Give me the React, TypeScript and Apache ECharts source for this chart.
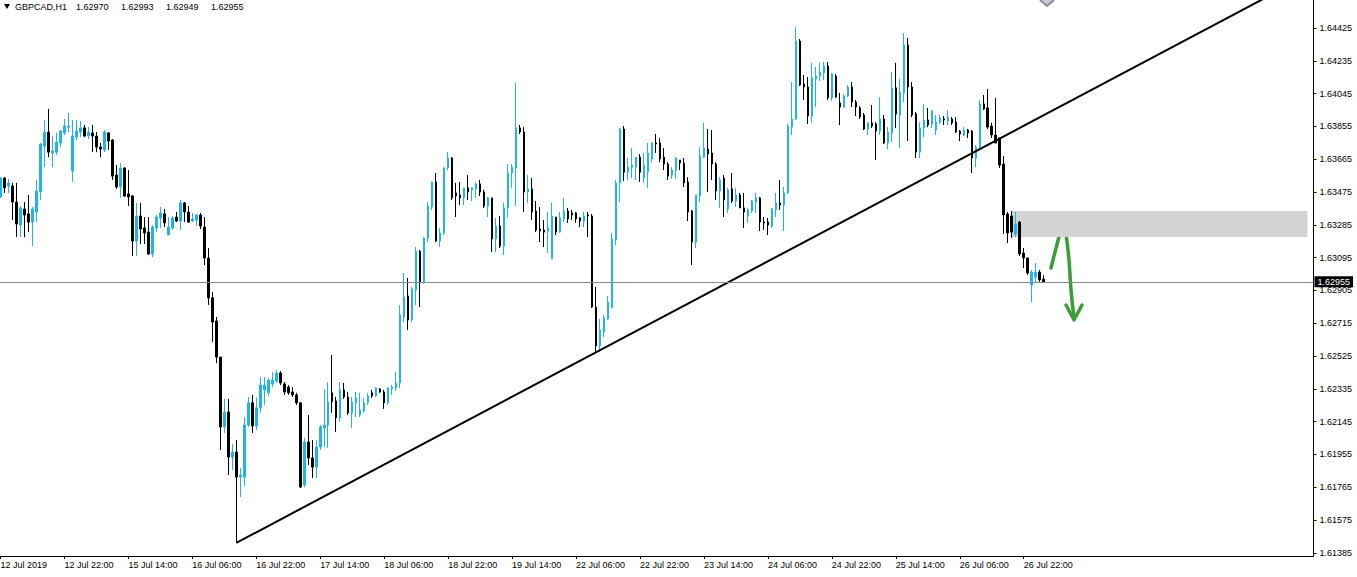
import React, { useEffect, useRef } from "react";
import * as echarts from "echarts";

const SYMBOL = "GBPCAD,H1";
const N_SLOTS = 329;
const TICK_STEP = 16;
const xTickLabels = ["12 Jul 2019","12 Jul 22:00","15 Jul 14:00","16 Jul 06:00","16 Jul 22:00","17 Jul 14:00","18 Jul 06:00","18 Jul 22:00","19 Jul 14:00","22 Jul 06:00","22 Jul 22:00","23 Jul 14:00","24 Jul 06:00","24 Jul 22:00","25 Jul 14:00","26 Jul 06:00","26 Jul 22:00"];
const yTickValues = [1.61385,1.61575,1.61765,1.61955,1.62145,1.62335,1.62525,1.62715,1.62905,1.63095,1.63285,1.63475,1.63665,1.63855,1.64045,1.64235,1.64425];
const Y_MIN = 1.61367;
const Y_MAX = 1.64587;

const opens = [1.63446,1.63556,1.63510,1.63510,1.63417,1.63284,1.63377,1.63348,1.63301,1.63359,
1.63475,1.63741,1.63822,1.63701,1.63706,1.63759,1.63817,1.63851,1.63596,1.63793,
1.63822,1.63846,1.63799,1.63817,1.63799,1.63735,1.63718,1.63817,1.63776,1.63573,
1.63504,1.63614,1.63464,1.63452,1.63191,1.63336,1.63267,1.63243,1.63116,1.63267,
1.63325,1.63348,1.63226,1.63267,1.63330,1.63307,1.63412,1.63359,1.63307,1.63313,
1.63342,1.63272,1.63093,1.62862,1.62728,1.62519,1.62114,1.62201,1.61940,1.61969,
1.61824,1.61824,1.62126,1.62254,1.62120,1.62225,1.62329,1.62312,1.62363,1.62380,
1.62427,1.62363,1.62345,1.62317,1.62300,1.62254,1.61778,1.62027,1.61935,1.61882,
1.61998,1.62109,1.62126,1.62312,1.62265,1.62167,1.62329,1.62288,1.62196,1.62254,
1.62184,1.62207,1.62254,1.62312,1.62294,1.62334,1.62317,1.62254,1.62334,1.62340,
1.62369,1.62751,1.62873,1.62734,1.62908,1.63133,1.62949,1.63209,1.63388,1.63533,
1.63191,1.63238,1.63614,1.63672,1.63470,1.63458,1.63441,1.63499,1.63487,1.63493,
1.63522,1.63475,1.63394,1.63441,1.63203,1.63278,1.63162,1.63383,1.63585,1.63614,
1.63846,1.63822,1.63475,1.63493,1.63365,1.63261,1.63255,1.63249,1.63087,1.63330,
1.63243,1.63319,1.63365,1.63354,1.63354,1.63325,1.63307,1.63342,1.63336,1.62809,
1.62583,1.62664,1.62740,1.62804,1.63197,1.63528,1.63840,1.63590,1.63619,1.63619,
1.63677,1.63556,1.63590,1.63666,1.63759,1.63759,1.63677,1.63637,1.63573,1.63602,
1.63660,1.63643,1.63533,1.63365,1.63185,1.63452,1.63677,1.63724,1.63701,1.63637,
1.63481,1.63556,1.63377,1.63493,1.63423,1.63458,1.63383,1.63336,1.63365,1.63417,
1.63441,1.63301,1.63301,1.63278,1.63371,1.63412,1.63400,1.63470,1.63851,1.63898,
1.64349,1.64101,1.64083,1.63915,1.64130,1.64147,1.64165,1.64205,1.64020,1.64147,
1.63991,1.63967,1.64031,1.64083,1.63996,1.63962,1.63921,1.63840,1.63875,1.63869,
1.63828,1.63898,1.63759,1.63817,1.64078,1.63921,1.64049,1.64326,1.64083,1.63927,
1.63706,1.63846,1.63892,1.63869,1.63834,1.63880,1.63898,1.63886,1.63898,1.63880,
1.63828,1.63805,1.63834,1.63828,1.63672,1.63735,1.63985,1.63962,1.63857,1.63805,
1.63788,1.63637,1.63348,1.63336,1.63232,1.63301,1.63122,1.63093,1.62937,1.62982,
1.63011,1.62970];

const closes = [1.63556,1.63499,1.63528,1.63417,1.63290,1.63383,1.63342,1.63301,1.63377,1.63481,
1.63753,1.63822,1.63706,1.63712,1.63764,1.63828,1.63857,1.63857,1.63799,1.63828,
1.63846,1.63799,1.63822,1.63799,1.63735,1.63724,1.63822,1.63770,1.63567,1.63504,
1.63614,1.63452,1.63446,1.63191,1.63336,1.63261,1.63238,1.63116,1.63272,1.63330,
1.63354,1.63296,1.63272,1.63325,1.63307,1.63412,1.63359,1.63301,1.63319,1.63342,
1.63278,1.63093,1.62862,1.62722,1.62519,1.62114,1.62201,1.61940,1.61969,1.61824,
1.61836,1.62126,1.62254,1.62120,1.62225,1.62357,1.62357,1.62386,1.62386,1.62427,
1.62369,1.62317,1.62312,1.62300,1.62254,1.61766,1.62027,1.61935,1.61882,1.61998,
1.62114,1.62126,1.62259,1.62259,1.62167,1.62329,1.62288,1.62196,1.62259,1.62283,
1.62213,1.62254,1.62294,1.62294,1.62340,1.62317,1.62254,1.62340,1.62345,1.62369,
1.62763,1.62867,1.62734,1.62914,1.63133,1.62949,1.63209,1.63394,1.63533,1.63191,
1.63238,1.63614,1.63672,1.63441,1.63452,1.63441,1.63499,1.63475,1.63499,1.63522,
1.63475,1.63394,1.63441,1.63203,1.63278,1.63162,1.63383,1.63585,1.63619,1.63846,
1.63822,1.63475,1.63493,1.63359,1.63255,1.63249,1.63243,1.63267,1.63336,1.63243,
1.63325,1.63365,1.63319,1.63342,1.63319,1.63307,1.63336,1.63336,1.62809,1.62583,
1.62676,1.62746,1.62838,1.63203,1.63528,1.63840,1.63590,1.63619,1.63631,1.63677,
1.63590,1.63631,1.63701,1.63759,1.63753,1.63666,1.63637,1.63567,1.63602,1.63672,
1.63643,1.63528,1.63359,1.63185,1.63458,1.63683,1.63730,1.63695,1.63637,1.63481,
1.63545,1.63429,1.63487,1.63423,1.63458,1.63383,1.63359,1.63371,1.63423,1.63441,
1.63301,1.63296,1.63284,1.63377,1.63412,1.63400,1.63470,1.63857,1.63898,1.64349,
1.64095,1.64083,1.63915,1.64136,1.64147,1.64170,1.64205,1.64020,1.64159,1.64025,
1.63967,1.64031,1.64083,1.63996,1.63967,1.63909,1.63840,1.63875,1.63857,1.63828,
1.63898,1.63759,1.63822,1.64078,1.63927,1.64054,1.64326,1.64083,1.63921,1.63706,
1.63846,1.63892,1.63863,1.63944,1.63880,1.63904,1.63892,1.63909,1.63875,1.63822,
1.63811,1.63834,1.63817,1.63672,1.63735,1.63985,1.63956,1.63851,1.63805,1.63759,
1.63631,1.63342,1.63238,1.63243,1.63290,1.63116,1.63093,1.63006,1.63011,1.63011,
1.62966,1.62955];

const lows = [1.63441,1.63470,1.63470,1.63313,1.63214,1.63214,1.63214,1.63243,1.63162,1.63301,
1.63429,1.63619,1.63677,1.63619,1.63689,1.63735,1.63805,1.63822,1.63533,1.63776,
1.63793,1.63793,1.63782,1.63706,1.63706,1.63677,1.63706,1.63718,1.63545,1.63493,
1.63441,1.63446,1.63394,1.63104,1.63104,1.63174,1.63174,1.63110,1.63098,1.63243,
1.63267,1.63272,1.63226,1.63255,1.63301,1.63255,1.63301,1.63296,1.63301,1.63278,
1.63261,1.63052,1.62821,1.62606,1.62485,1.61981,1.62080,1.61836,1.61865,1.61443,
1.61708,1.61772,1.62114,1.62080,1.62097,1.62196,1.62242,1.62294,1.62345,1.62369,
1.62357,1.62300,1.62300,1.62288,1.62242,1.61761,1.61766,1.61894,1.61819,1.61819,
1.61981,1.61998,1.61993,1.62196,1.62085,1.62143,1.62277,1.62184,1.62109,1.62172,
1.62172,1.62196,1.62242,1.62283,1.62288,1.62312,1.62219,1.62242,1.62300,1.62323,
1.62340,1.62722,1.62676,1.62722,1.62821,1.62809,1.62943,1.63185,1.63371,1.63185,
1.63156,1.63226,1.63602,1.63429,1.63330,1.63400,1.63400,1.63429,1.63423,1.63441,
1.63452,1.63383,1.63330,1.63127,1.63127,1.63151,1.63110,1.63325,1.63499,1.63394,
1.63811,1.63359,1.63412,1.63313,1.63243,1.63185,1.63156,1.63122,1.63087,1.63226,
1.63238,1.63301,1.63296,1.63313,1.63296,1.63272,1.63272,1.63214,1.62804,1.62548,
1.62548,1.62635,1.62734,1.62804,1.63168,1.63417,1.63539,1.63545,1.63556,1.63545,
1.63533,1.63528,1.63499,1.63648,1.63701,1.63648,1.63602,1.63545,1.63550,1.63550,
1.63602,1.63504,1.63307,1.63052,1.63151,1.63417,1.63672,1.63475,1.63545,1.63429,
1.63383,1.63330,1.63354,1.63412,1.63388,1.63383,1.63267,1.63296,1.63354,1.63354,
1.63249,1.63255,1.63226,1.63267,1.63330,1.63371,1.63249,1.63464,1.63805,1.63892,
1.64089,1.64008,1.63869,1.63875,1.63967,1.64118,1.64124,1.64008,1.64002,1.64020,
1.63863,1.63962,1.64025,1.63967,1.63915,1.63898,1.63834,1.63805,1.63846,1.63660,
1.63805,1.63753,1.63724,1.63764,1.63846,1.63730,1.63996,1.63770,1.63909,1.63672,
1.63672,1.63793,1.63851,1.63846,1.63805,1.63869,1.63863,1.63863,1.63863,1.63817,
1.63770,1.63799,1.63788,1.63585,1.63619,1.63730,1.63950,1.63840,1.63788,1.63759,
1.63614,1.63232,1.63180,1.63209,1.63214,1.63104,1.63035,1.62994,1.62838,1.62949,
1.62954,1.62949];

const highs = [1.63561,1.63561,1.63550,1.63528,1.63528,1.63394,1.63417,1.63458,1.63388,1.63545,
1.63759,1.63892,1.63956,1.63799,1.63817,1.63834,1.63898,1.63933,1.63892,1.63892,
1.63886,1.63863,1.63851,1.63863,1.63822,1.63759,1.63834,1.63822,1.63782,1.63631,
1.63643,1.63619,1.63602,1.63458,1.63412,1.63412,1.63330,1.63330,1.63284,1.63342,
1.63388,1.63377,1.63330,1.63336,1.63359,1.63429,1.63417,1.63394,1.63354,1.63348,
1.63354,1.63330,1.63151,1.62896,1.62751,1.62519,1.62277,1.62277,1.62016,1.62039,
1.61877,1.62172,1.62288,1.62300,1.62283,1.62403,1.62403,1.62398,1.62432,1.62444,
1.62438,1.62374,1.62357,1.62345,1.62312,1.62259,1.62051,1.62184,1.62039,1.62039,
1.62126,1.62334,1.62374,1.62531,1.62288,1.62374,1.62369,1.62317,1.62288,1.62317,
1.62312,1.62283,1.62312,1.62329,1.62345,1.62340,1.62329,1.62345,1.62357,1.62432,
1.62821,1.63006,1.62977,1.62925,1.63156,1.63139,1.63214,1.63417,1.63533,1.63585,
1.63267,1.63619,1.63706,1.63677,1.63528,1.63533,1.63499,1.63573,1.63504,1.63533,
1.63545,1.63487,1.63446,1.63441,1.63325,1.63336,1.63412,1.63637,1.63637,1.64107,
1.63863,1.63851,1.63573,1.63556,1.63423,1.63388,1.63313,1.63359,1.63412,1.63330,
1.63359,1.63441,1.63383,1.63371,1.63359,1.63330,1.63359,1.63359,1.63348,1.62925,
1.62740,1.62763,1.62873,1.63238,1.63545,1.63846,1.63857,1.63672,1.63730,1.63677,
1.63695,1.63701,1.63759,1.63764,1.63811,1.63788,1.63730,1.63648,1.63619,1.63677,
1.63660,1.63672,1.63561,1.63371,1.63458,1.63735,1.63875,1.63840,1.63834,1.63648,
1.63561,1.63573,1.63499,1.63585,1.63499,1.63470,1.63470,1.63383,1.63429,1.63470,
1.63446,1.63330,1.63325,1.63383,1.63470,1.63545,1.63504,1.63869,1.64112,1.64430,
1.64361,1.64153,1.64141,1.64223,1.64199,1.64223,1.64228,1.64228,1.64165,1.64159,
1.64049,1.64043,1.64095,1.64112,1.64008,1.63973,1.63933,1.63880,1.63979,1.63880,
1.64025,1.63921,1.63851,1.64170,1.64223,1.64130,1.64396,1.64367,1.64112,1.63938,
1.63880,1.63985,1.63962,1.63950,1.63921,1.63921,1.63915,1.63950,1.63909,1.63909,
1.63834,1.63851,1.63840,1.63834,1.63747,1.64008,1.64037,1.64072,1.63875,1.64020,
1.63788,1.63683,1.63359,1.63365,1.63359,1.63307,1.63151,1.63093,1.63023,1.63064,
1.63023,1.62993];

// trend line anchors: [bar index, price]
const trendLine = [[59, 1.61443], [316, 1.64594]];
// resistance zone: bar range and price range
const zoneBars = [253, 327];
const zonePrices = [1.63365, 1.63214];

const BULL = "#20B4EA";
const BEAR = "#000000";
const FONT = '"Liberation Sans", Arial, sans-serif';

export default function App() {
  const ref = useRef<HTMLDivElement>(null);
  useEffect(() => {
    if (!ref.current) return;
    const chart = echarts.init(ref.current, undefined, { renderer: "svg" });
    const n = opens.length;
    const candles = opens.map((o, i) => [o, closes[i], lows[i], highs[i]]);
    const categories = Array.from({ length: N_SLOTS }, (_, i) => String(i));
    const last = n - 1;
    const fmt = (v: number) => v.toFixed(5);
    const showTick = (idx: number) => idx % TICK_STEP === 0 && idx / TICK_STEP < xTickLabels.length;
    const headerNums = [opens[last], highs[last], lows[last], closes[last]].map(fmt);

    const option: any = {
      animation: false,
      backgroundColor: "#ffffff",
      grid: { left: -1.5, right: 43.5, top: 0, bottom: 21, containLabel: false, outerBoundsMode: "none" },
      xAxis: {
        type: "category",
        data: categories,
        boundaryGap: true,
        axisLine: { show: true, lineStyle: { color: "#000", width: 1 } },
        axisTick: { show: true, interval: (idx: number) => showTick(idx), alignWithLabel: true, length: 3, lineStyle: { color: "#000" } },
        axisLabel: {
          show: true,
          interval: (idx: number) => showTick(idx),
          formatter: (_v: string, idx: number) => xTickLabels[Math.round(idx / TICK_STEP)] || "",
          align: "left",
          margin: 4,
          color: "#000",
          fontSize: 9,
          fontFamily: FONT,
        },
        splitLine: { show: false },
      },
      yAxis: {
        type: "value",
        position: "right",
        min: Y_MIN,
        max: Y_MAX,
        scale: true,
        axisLine: { show: true, lineStyle: { color: "#000", width: 1 } },
        axisTick: { show: true, customValues: yTickValues, length: 3, lineStyle: { color: "#000" } },
        axisLabel: {
          show: true,
          customValues: yTickValues,
          formatter: (v: number) => fmt(v),
          margin: 6,
          color: "#000",
          fontSize: 9,
          fontFamily: FONT,
        },
        splitLine: { show: false },
      },
      series: [
        {
          type: "line",
          name: "zone",
          data: [],
          z: 1,
          silent: true,
          markArea: {
            silent: true,
            itemStyle: { color: "#d3d3d3", opacity: 1 },
            data: [[{ xAxis: zoneBars[0], yAxis: zonePrices[0] }, { xAxis: zoneBars[1], yAxis: zonePrices[1] }]],
          },
          markLine: {
            silent: true,
            precision: 5,
            symbol: ["none", "none"],
            lineStyle: { color: "#8a8a8a", width: 1, type: "solid" },
            label: {
              show: true,
              position: "end",
              formatter: () => fmt(closes[last]),
              backgroundColor: "#000",
              color: "#fff",
              padding: [1, 3, 1, 3],
              fontSize: 9,
              fontFamily: FONT,
              distance: 1,
            },
            data: [{ yAxis: closes[last] }],
          },
        },
        {
          type: "candlestick",
          name: SYMBOL,
          data: candles,
          z: 2,
          barWidth: 2,
          itemStyle: { color: BULL, color0: BEAR, borderColor: BULL, borderColor0: BEAR, borderWidth: 1 },
        },
        {
          type: "line",
          name: "trend",
          data: trendLine,
          z: 3,
          clip: true,
          symbol: "none",
          silent: true,
          lineStyle: { color: "#000", width: 2 },
        },
      ],
      graphic: [
        { type: "polygon", shape: { points: [[4, 4], [10, 4], [7, 9]] }, style: { fill: "#000" } },
        { type: "text", x: 15, y: 2, style: { text: SYMBOL, fill: "#000", font: `9px ${FONT}` } },
        ...headerNums.map((t, k) => ({ type: "text", x: 76 + k * 45, y: 2, style: { text: t, fill: "#000", font: `9px ${FONT}` } })),
        { type: "polyline", shape: { points: [[1040, 0], [1047, 6], [1054, 0]] }, style: { stroke: "#8c8ca0", lineWidth: 2, fill: "#c8c8d4" } },
        { type: "polyline", shape: { points: [[1051, 268], [1055, 252], [1059, 237], [1063, 224]], smooth: 0.3 }, style: { stroke: "#3a9d3a", lineWidth: 3.5, lineCap: "round", fill: null } },
        { type: "polyline", shape: { points: [[1066, 233], [1069, 260], [1071, 290], [1074, 318]], smooth: 0.3 }, style: { stroke: "#3a9d3a", lineWidth: 3.5, lineCap: "round", fill: null } },
        { type: "polyline", shape: { points: [[1066, 305], [1074, 320], [1082, 305]] }, style: { stroke: "#3a9d3a", lineWidth: 3.5, lineCap: "round", lineJoin: "round", fill: null } },
      ],
    };
    chart.setOption(option);
    return () => chart.dispose();
  }, []);
  return (
    <div
      ref={ref}
      style={{ position: "fixed", left: 0, top: 0, width: 1357, height: 577, background: "#fff" }}
    />
  );
}
